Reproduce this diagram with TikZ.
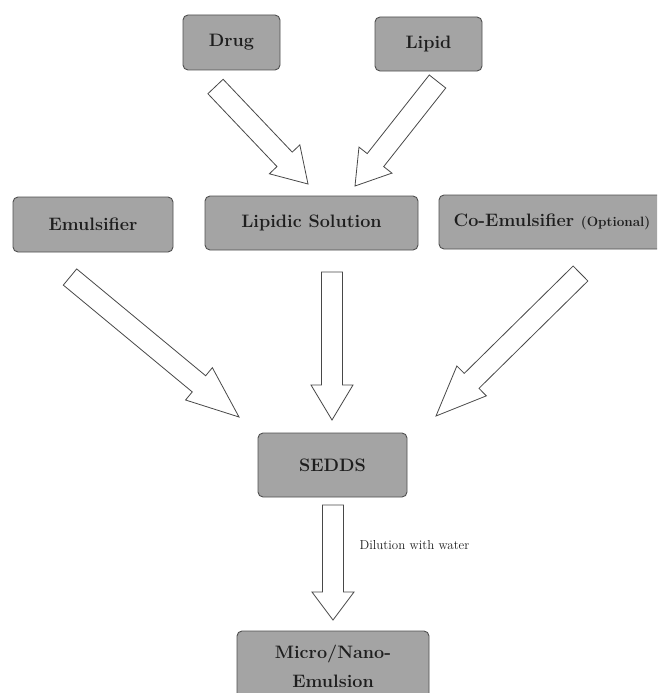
\documentclass[tikz,border=0pt]{standalone}
\usetikzlibrary{calc}
\definecolor{boxgray}{RGB}{164,164,164}
\definecolor{edgegray}{RGB}{80,80,80}
\definecolor{inkgray}{RGB}{30,30,30}

% hollow block arrow: tail, tip, head length
\newcommand{\fatarrow}[3]{%
  \coordinate (#2-hb) at ($(#2)!#3!(#1)$);
  \draw[fatarr] ($(#1)!10.5pt!90:(#2)$) -- ($(#2-hb)!10.5pt!90:(#2)$)
    -- ($(#2-hb)!21pt!90:(#2)$) -- (#2) -- ($(#2-hb)!21pt!-90:(#2)$)
    -- ($(#2-hb)!10.5pt!-90:(#2)$) -- ($(#1)!10.5pt!-90:(#2)$) -- cycle;
}

\begin{document}
\begin{tikzpicture}[x=1pt, y=-1pt,
    stage/.style={rectangle, draw=edgegray, fill=boxgray, line width=0.9pt, rounded corners=5pt,
      text=inkgray, font=\fontsize{18}{29}\selectfont\bfseries, align=center, inner sep=0pt},
    fatarr/.style={draw=edgegray!90!black, fill=white, line width=0.8pt, line join=miter}
]
    \clip (0,0) rectangle (657,693);
    \fill[white] (0,0) rectangle (657,693);

    % Components
    \node[stage, minimum width=97, minimum height=55] (drug) at (231.5,42.5) {Drug};
    \node[stage, minimum width=107, minimum height=54] (lipid) at (428.5,44) {Lipid};
    \node[stage, minimum width=160, minimum height=55] (emul) at (93,224.5) {Emulsifier};
    \node[stage, minimum width=213, minimum height=54] (sol) at (311.5,223) {Lipidic Solution};
    \node[stage, minimum width=226, minimum height=54] (coemul) at (552,222)
        {Co-Emulsifier {\fontsize{13.5}{15}\selectfont(Optional)}};
    \node[stage, minimum width=149, minimum height=64] (sedds) at (332.5,465) {SEDDS};
    \node[stage, minimum width=192, minimum height=70] (micro) at (333,666) {Micro/Nano-\\Emulsion};

    % Arrow ends
    \coordinate (drug-a) at (215.5,86.5);   \coordinate (drug-b) at (308,184);
    \coordinate (lipid-a) at (437.5,81.5);  \coordinate (lipid-b) at (355,186);
    \coordinate (emul-a) at (70,277);       \coordinate (emul-b) at (239,417);
    \coordinate (sol-a) at (332,272);       \coordinate (sol-b) at (332,420);
    \coordinate (coemul-a) at (580.5,273.5);\coordinate (coemul-b) at (436,416);
    \coordinate (sedds-a) at (333,505);     \coordinate (sedds-b) at (333,620);

    % Arrows
    \fatarrow{drug-a}{drug-b}{34pt}
    \fatarrow{lipid-a}{lipid-b}{33pt}
    \fatarrow{emul-a}{emul-b}{52pt}
    \fatarrow{sol-a}{sol-b}{35pt}
    \fatarrow{coemul-a}{coemul-b}{50pt}
    \fatarrow{sedds-a}{sedds-b}{28pt}

    % Label
    \node[anchor=west, text=inkgray, font=\fontsize{13}{15}\selectfont] (dil) at (356,545) {Dilution with water};
\end{tikzpicture}
\end{document}
